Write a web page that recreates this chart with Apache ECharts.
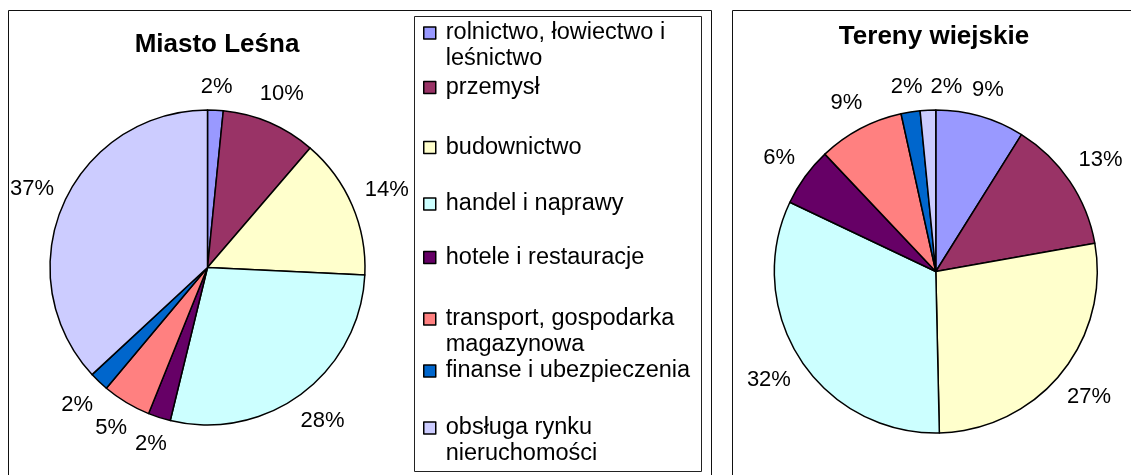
<!DOCTYPE html>
<html><head><meta charset="utf-8">
<script src="https://cdn.jsdelivr.net/npm/echarts@6/dist/echarts.min.js"></script>
<style>html,body{margin:0;padding:0;background:#fff}#c{width:1131px;height:475px}</style>
</head><body><div id="c"></div>
<script>
const categories = ['rolnictwo, łowiectwo i leśnictwo', 'przemysł', 'budownictwo', 'handel i naprawy', 'hotele i restauracje', 'transport, gospodarka magazynowa', 'finanse i ubezpieczenia', 'obsługa rynku nieruchomości'];
const legendLabels = ['rolnictwo, łowiectwo i\nleśnictwo', 'przemysł', 'budownictwo', 'handel i naprawy', 'hotele i restauracje', 'transport, gospodarka\nmagazynowa', 'finanse i ubezpieczenia', 'obsługa rynku\nnieruchomości'];
// shares (%); labels show them rounded
const miastoLesna = [1.6, 9.7, 14.45, 28.05, 2.3, 5.0, 2.0, 36.9];
const terenyWiejskie = [8.9, 13.3, 27.45, 32.4, 5.9, 8.6, 1.9, 1.55];
const colors = ['#9999FF', '#993366', '#FFFFCC', '#CCFFFF', '#660066', '#FF8080', '#0066CC', '#CCCCFF'];
const titles = ['Miasto Leśna', 'Tereny wiejskie'];

const FONT = '"Liberation Sans", Arial, sans-serif';
const chart = echarts.init(document.getElementById('c'), null, {renderer: 'canvas'});

const LH = 26;
const legendCenters = [33, 87.5, 147.5, 204, 257.5, 319, 371, 428];
const legends = categories.map((name, i) => {
  const twoLine = legendLabels[i].indexOf('\n') >= 0;
  return {
    orient: 'vertical',
    left: 423,
    top: twoLine ? legendCenters[i] - LH * 1.5 : legendCenters[i] - LH / 2,
    padding: 0,
    selectedMode: false,
    icon: 'rect',
    itemWidth: 12,
    itemHeight: 12,
    itemStyle: {borderColor: '#000', borderWidth: 1.5},
    // two-line entries get an empty leading line so the marker sits on the first text line
    formatter: n => {
      const t = legendLabels[categories.indexOf(n)];
      return t.indexOf('\n') >= 0 ? '\n' + t : t;
    },
    textStyle: {
      fontFamily: FONT, fontSize: 23.5, lineHeight: LH, color: '#000',
      padding: [0, 0, 0, 5]
    },
    data: [name]
  };
});

const LABEL_PAD = 4;
function makeLabelLayout(minLeft) {
  return function (p) {
    const pts = p.labelLinePoints;
    if (!pts || pts.length < 2) return {};
    let dx = pts[1][0] - pts[0][0], dy = pts[1][1] - pts[0][1];
    const len = Math.hypot(dx, dy) || 1;
    dx /= len; dy /= len;
    const w = p.labelRect.width;
    const off = 14 + ((w - 2 * LABEL_PAD) / 2) * Math.abs(dx) + 9 * Math.abs(dy);
    let x = pts[0][0] + dx * off;
    if (x - w / 2 < minLeft - LABEL_PAD) x = minLeft - LABEL_PAD + w / 2;
    const res = {x: x, y: pts[0][1] + dy * off, align: 'center', verticalAlign: 'middle'};
    // labels crowded above the pie are spread sideways (1-D shift)
    if (Math.abs(dx) < 0.3 && dy < 0) res.moveOverlap = 'shiftX';
    return res;
  };
}

function pieSeries(values, center, radius, minLeft) {
  return {
    type: 'pie',
    center: center,
    radius: radius,
    startAngle: 90,
    clockwise: true,
    avoidLabelOverlap: false,
    animation: false,
    itemStyle: {borderColor: '#000', borderWidth: 1.5},
    label: {
      show: true, position: 'outside', formatter: p => Math.round(p.percent) + '%',
      fontFamily: FONT, fontSize: 22, lineHeight: 22, color: '#000',
      padding: [0, LABEL_PAD, 0, LABEL_PAD]
    },
    labelLine: {show: true, length: 10, length2: 0, lineStyle: {width: 0, opacity: 0}},
    labelLayout: makeLabelLayout(minLeft),
    emphasis: {disabled: true},
    data: categories.map((n, i) => ({name: n, value: values[i], itemStyle: {color: colors[i]}}))
  };
}

chart.setOption({
  animation: false,
  color: colors,
  graphic: [
    {type: 'rect', z: -1, shape: {x: 8.5, y: 10.5, width: 703, height: 500}, style: {fill: 'none', stroke: '#111', lineWidth: 1}},
    {type: 'rect', z: -1, shape: {x: 732.5, y: 10.5, width: 500, height: 500}, style: {fill: 'none', stroke: '#111', lineWidth: 1}},
    {type: 'rect', z: -1, shape: {x: 414.5, y: 16.5, width: 287, height: 455}, style: {fill: 'none', stroke: '#222', lineWidth: 1}},
    {type: 'text', x: 217, y: 44.5, style: {text: titles[0], font: 'bold 26px ' + FONT, fill: '#000', align: 'center', verticalAlign: 'middle', textAlign: 'center', textVerticalAlign: 'middle'}},
    {type: 'text', x: 934, y: 36.5, style: {text: titles[1], font: 'bold 26px ' + FONT, fill: '#000', align: 'center', verticalAlign: 'middle', textAlign: 'center', textVerticalAlign: 'middle'}}
  ],
  legend: legends,
  series: [
    pieSeries(miastoLesna, [207.5, 267.5], 157.5, 10),
    pieSeries(terenyWiejskie, [935.8, 271.5], 161.5, 735)
  ]
});
</script>
</body></html>
